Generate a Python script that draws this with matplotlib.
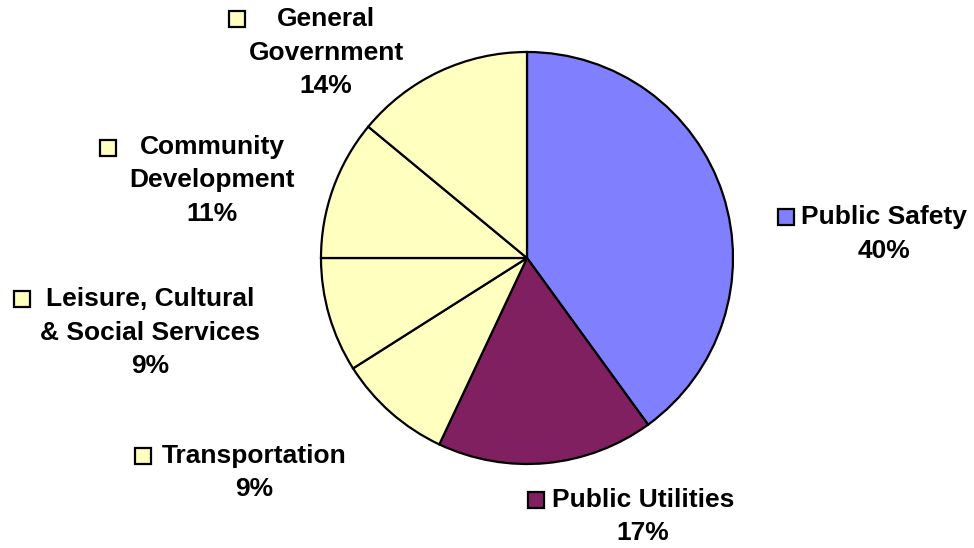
import matplotlib.pyplot as plt
from matplotlib.patches import Rectangle

# Budget shares, clockwise from 12 o'clock
categories = ["Public Safety", "Public Utilities", "Transportation",
              "Leisure, Cultural\n& Social Services", "Community\nDevelopment",
              "General\nGovernment"]
shares = [40, 17, 9, 9, 11, 14]
colors = ["#8080FF", "#802060", "#FFFFC0", "#FFFFC0", "#FFFFC0", "#FFFFC0"]

# label anchor (text centre x, first line y) and marker centre, in pixel units
label_pos = [(884, 217), (643, 500), (254, 456), (150, 299), (212, 147), (326, 19)]
marker_pos = [(786, 217), (536, 500), (143, 456), (22, 299), (108, 148), (237, 19)]

W, H = 974, 548
fig = plt.figure(figsize=(W / 100, H / 100), dpi=100)
ax = fig.add_axes([0, 0, 1, 1])
ax.set_xlim(0, W)
ax.set_ylim(0, H)
ax.set_aspect("equal")
ax.axis("off")

ax.pie(shares, colors=colors, startangle=90, counterclock=False,
       center=(527, H - 258), radius=206,
       wedgeprops=dict(edgecolor="black", linewidth=1.6))
ax.set_xlim(0, W)
ax.set_ylim(0, H)

sq = 16
for name, val, (tx, ty), (mx, my), c in zip(categories, shares, label_pos,
                                            marker_pos, colors):
    lines = name.split("\n") + [f"{val}%"]
    for i, line in enumerate(lines):
        ax.text(tx, H - ty - i * 33.5, line, ha="center", va="center",
                fontsize=19, fontweight="bold", family="Liberation Sans")
    ax.add_patch(Rectangle((mx - sq / 2, H - my - sq / 2), sq, sq,
                           facecolor=c, edgecolor="black", linewidth=1.6))

fig.savefig("out.png", dpi=100)
